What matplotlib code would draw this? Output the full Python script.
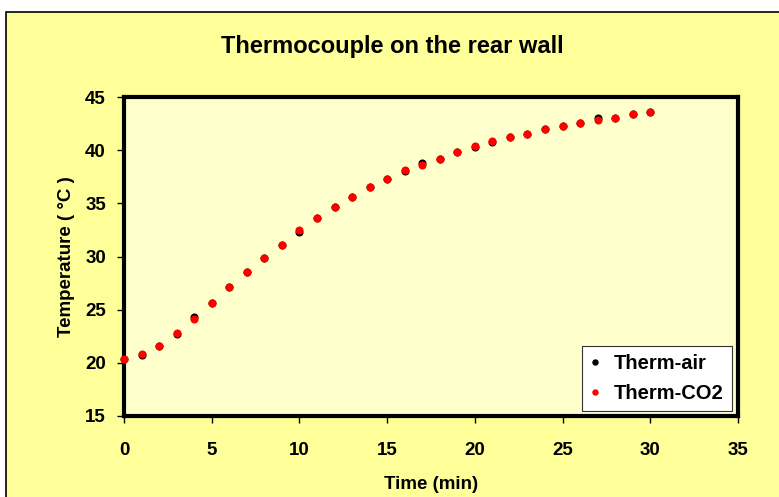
import matplotlib
matplotlib.use('Agg')
import matplotlib.pyplot as plt
from matplotlib.patches import Rectangle

# time in minutes
time_min = list(range(0, 31))

therm_air = [20.4, 20.7, 21.6, 22.7, 24.3, 25.6, 27.1, 28.5, 29.9, 31.1,
             32.35, 33.6, 34.65, 35.55, 36.5, 37.25, 38.0, 38.8, 39.2, 39.8,
             40.3, 40.8, 41.25, 41.5, 42.0, 42.3, 42.6, 43.0, 43.05, 43.4,
             43.55]
therm_co2 = [20.4, 20.8, 21.6, 22.8, 24.1, 25.6, 27.15, 28.5, 29.9, 31.1,
             32.5, 33.6, 34.65, 35.55, 36.5, 37.25, 38.15, 38.65, 39.2, 39.8,
             40.4, 40.9, 41.25, 41.5, 42.0, 42.3, 42.6, 42.8, 43.05, 43.4,
             43.55]

x_ticks = [0, 5, 10, 15, 20, 25, 30, 35]
y_ticks = [15, 20, 25, 30, 35, 40, 45]

plt.rcParams['font.family'] = ['Liberation Sans', 'DejaVu Sans']
plt.rcParams['font.weight'] = 'bold'

fig = plt.figure(figsize=(7.79, 4.97), dpi=100)
fig.patch.set_facecolor('white')

# chart area frame (runs off the right and bottom edges)
frame = Rectangle((6 / 779, -0.05), 1.0, 1 - 12 / 497 + 0.05,
                  transform=fig.transFigure, facecolor='#FFFF99',
                  edgecolor='black', linewidth=1.2, zorder=-10)
fig.add_artist(frame)

ax = fig.add_axes([124 / 779, 1 - 416 / 497, (738 - 124) / 779, (416 - 97) / 497])
ax.set_zorder(1)
ax.set_facecolor('#FFFFCC')

ax.plot(time_min, therm_air, 'o', color='black', markersize=4.8, label='Therm-air',
        zorder=3, clip_on=False)
ax.plot(time_min, therm_co2, 'o', color='#FF0000', markersize=4.8, label='Therm-CO2',
        zorder=4, clip_on=False)

ax.set_xlim(0, 35)
ax.set_ylim(15, 45)
ax.set_xticks(x_ticks)
ax.set_yticks(y_ticks)
for s in ax.spines.values():
    s.set_linewidth(3)
    s.set_color('black')
ax.tick_params(direction='out', length=5, width=1, labelsize=13.5, pad=8)
ax.tick_params(axis='x', pad=14)
for lbl in ax.get_xticklabels() + ax.get_yticklabels():
    lbl.set_fontweight('bold')

ax.set_xlabel('Time (min)', fontsize=13.5, fontweight='bold', labelpad=12)
ax.set_ylabel('Temperature ( °C )', fontsize=13.5, fontweight='bold', labelpad=7)
fig.text(0.503, 1 - 47 / 497, 'Thermocouple on the rear wall', ha='center', va='center',
         fontsize=17, fontweight='bold')

leg = ax.legend(loc='lower right', bbox_to_anchor=(0.99, 0.015), markerscale=0.75,
                handlelength=0.5, handletextpad=0.7, fancybox=False, framealpha=1,
                edgecolor='#333333', prop={'weight': 'bold', 'size': 14.5},
                borderpad=0.4, labelspacing=0.55, borderaxespad=0)
leg.get_frame().set_linewidth(0.8)

fig.savefig('out.png', dpi=100)
